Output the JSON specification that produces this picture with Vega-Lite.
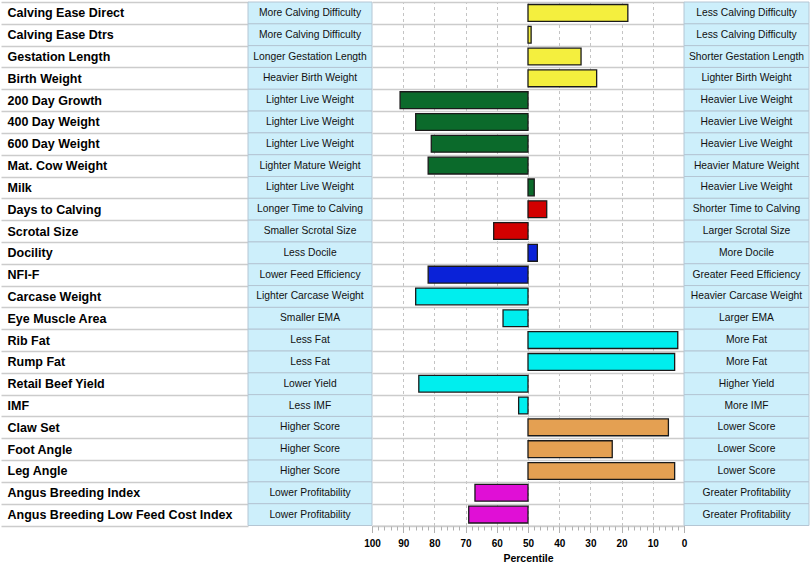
{
  "$schema": "https://vega.github.io/schema/vega-lite/v6.json",
  "padding": {"left": 0, "top": -4, "right": 4, "bottom": 0},
  "spacing": 0,
  "bounds": "flush",
  "config": {"font": "Liberation Sans", "view": {"stroke": null}},
  "data": {"values": [
    {"trait": "Calving Ease Direct", "left": "More Calving Difficulty", "right": "Less Calving Difficulty", "value": 18, "group": "Calving"},
    {"trait": "Calving Ease Dtrs", "left": "More Calving Difficulty", "right": "Less Calving Difficulty", "value": 49, "group": "Calving"},
    {"trait": "Gestation Length", "left": "Longer Gestation Length", "right": "Shorter Gestation Length", "value": 33, "group": "Calving"},
    {"trait": "Birth Weight", "left": "Heavier Birth Weight", "right": "Lighter Birth Weight", "value": 28, "group": "Calving"},
    {"trait": "200 Day Growth", "left": "Lighter Live Weight", "right": "Heavier Live Weight", "value": 91, "group": "Growth"},
    {"trait": "400 Day Weight", "left": "Lighter Live Weight", "right": "Heavier Live Weight", "value": 86, "group": "Growth"},
    {"trait": "600 Day Weight", "left": "Lighter Live Weight", "right": "Heavier Live Weight", "value": 81, "group": "Growth"},
    {"trait": "Mat. Cow Weight", "left": "Lighter Mature Weight", "right": "Heavier Mature Weight", "value": 82, "group": "Growth"},
    {"trait": "Milk", "left": "Lighter Live Weight", "right": "Heavier Live Weight", "value": 48, "group": "Growth"},
    {"trait": "Days to Calving", "left": "Longer Time to Calving", "right": "Shorter Time to Calving", "value": 44, "group": "Fertility"},
    {"trait": "Scrotal Size", "left": "Smaller Scrotal Size", "right": "Larger Scrotal Size", "value": 61, "group": "Fertility"},
    {"trait": "Docility", "left": "Less Docile", "right": "More Docile", "value": 47, "group": "Other"},
    {"trait": "NFI-F", "left": "Lower Feed Efficiency", "right": "Greater Feed Efficiency", "value": 82, "group": "Other"},
    {"trait": "Carcase Weight", "left": "Lighter Carcase Weight", "right": "Heavier Carcase Weight", "value": 86, "group": "Carcase"},
    {"trait": "Eye Muscle Area", "left": "Smaller EMA", "right": "Larger EMA", "value": 58, "group": "Carcase"},
    {"trait": "Rib Fat", "left": "Less Fat", "right": "More Fat", "value": 2, "group": "Carcase"},
    {"trait": "Rump Fat", "left": "Less Fat", "right": "More Fat", "value": 3, "group": "Carcase"},
    {"trait": "Retail Beef Yield", "left": "Lower Yield", "right": "Higher Yield", "value": 85, "group": "Carcase"},
    {"trait": "IMF", "left": "Less IMF", "right": "More IMF", "value": 53, "group": "Carcase"},
    {"trait": "Claw Set", "left": "Higher Score", "right": "Lower Score", "value": 5, "group": "Structure"},
    {"trait": "Foot Angle", "left": "Higher Score", "right": "Lower Score", "value": 23, "group": "Structure"},
    {"trait": "Leg Angle", "left": "Higher Score", "right": "Lower Score", "value": 3, "group": "Structure"},
    {"trait": "Angus Breeding Index", "left": "Lower Profitability", "right": "Greater Profitability", "value": 67, "group": "Index"},
    {"trait": "Angus Breeding Low Feed Cost Index", "left": "Lower Profitability", "right": "Greater Profitability", "value": 69, "group": "Index"}
  ]},
  "hconcat": [
    {
      "width": 124,
      "height": 523.5,
      "encoding": {
        "y": {"field": "trait", "type": "nominal", "sort": null,
              "scale": {"paddingInner": 0, "paddingOuter": 0},
              "axis": {"title": null, "orient": "left", "domain": false, "ticks": true,
                       "tickBand": "extent", "tickSize": 247, "tickColor": "#cccccc", "tickWidth": 1.5,
                       "labelAlign": "left", "labelPadding": -6, "labelLimit": 320,
                       "labelFontSize": 12.5, "labelFontWeight": "bold", "labelColor": "#000000", "grid": false}}
      },
      "layer": [
        {"mark": {"type": "bar", "fill": "#cdeffb", "stroke": "#b4c6d4", "strokeWidth": 1}},
        {"mark": {"type": "text", "fontSize": 10.3, "color": "#111111"}, "encoding": {"text": {"field": "left"}}}
      ]
    },
    {
      "width": 312,
      "height": 523.5,
      "mark": {"type": "bar", "height": {"band": 0.77}, "stroke": "#1a1a1a", "strokeWidth": 1.3},
      "encoding": {
        "y": {"field": "trait", "type": "nominal", "sort": null,
              "scale": {"paddingInner": 0, "paddingOuter": 0},
              "axis": {"title": null, "labels": false, "ticks": false, "domain": false,
                       "grid": true, "tickBand": "extent", "gridColor": "#cccccc", "gridWidth": 1.5}},
        "x": {"field": "value", "type": "quantitative",
              "scale": {"domain": [0, 100], "reverse": true, "nice": false, "zero": false},
              "axis": {"orient": "bottom",
                       "values": [0, 2, 4, 6, 8, 10, 12, 14, 16, 18, 20, 22, 24, 26, 28, 30, 32, 34, 36, 38, 40, 42, 44, 46, 48, 50, 52, 54, 56, 58, 60, 62, 64, 66, 68, 70, 72, 74, 76, 78, 80, 82, 84, 86, 88, 90, 92, 94, 96, 98, 100],
                       "labelExpr": "datum.value % 10 === 0 ? datum.label : ''",
                       "labelOverlap": false,
                       "grid": true, "gridDash": [3, 3], "gridColor": "#c4c4c4", "gridWidth": 1,
                       "gridOpacity": {"condition": {"test": "datum.value % 10 === 0 && datum.value > 0 && datum.value < 100", "value": 1}, "value": 0},
                       "tickSize": {"condition": {"test": "datum.value % 10 === 0", "value": 7}, "value": 4.5},
                       "tickColor": "#b0b0b0", "domainColor": "#cccccc",
                       "labelFlush": false, "labelPadding": 6, "labelFontSize": 10,
                       "labelFontWeight": "bold", "labelColor": "#000000",
                       "title": "Percentile", "titleFontSize": 10.5, "titleFontWeight": "bold",
                       "titleColor": "#000000", "titlePadding": 5}},
        "x2": {"datum": 50},
        "color": {"field": "group", "type": "nominal", "legend": null,
                  "scale": {"domain": ["Calving", "Growth", "Fertility", "Other", "Carcase", "Structure", "Index"],
                            "range": ["#f4ef3e", "#0b6a2b", "#d20000", "#0a22d8", "#00eeee", "#e4a052", "#e00fd6"]}}
      }
    },
    {
      "width": 125,
      "height": 523.5,
      "encoding": {
        "y": {"field": "trait", "type": "nominal", "sort": null,
              "scale": {"paddingInner": 0, "paddingOuter": 0}, "axis": null}
      },
      "layer": [
        {"mark": {"type": "bar", "fill": "#cdeffb", "stroke": "#b4c6d4", "strokeWidth": 1}},
        {"mark": {"type": "text", "fontSize": 10.3, "color": "#111111"}, "encoding": {"text": {"field": "right"}}}
      ]
    }
  ]
}
